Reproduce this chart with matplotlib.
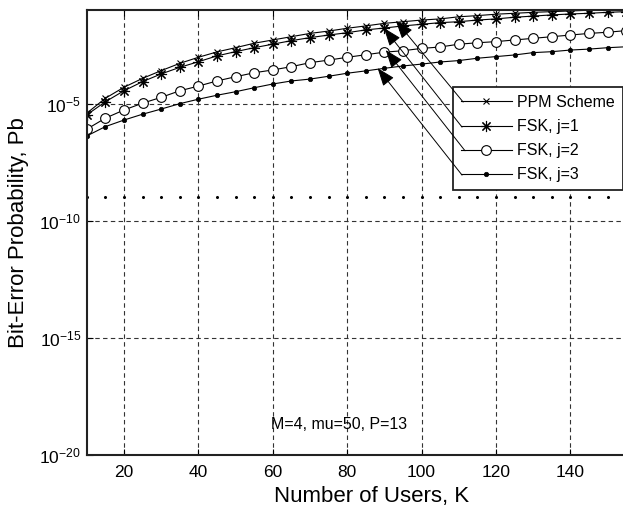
import numpy as np
import matplotlib
matplotlib.use("Agg")
import matplotlib.pyplot as plt
from matplotlib.ticker import FixedLocator, FixedFormatter, NullLocator

plt.rcParams['font.family'] = ['Liberation Sans', 'DejaVu Sans']
plt.rcParams['mathtext.fontset'] = 'custom'
plt.rcParams['mathtext.rm'] = 'Liberation Sans'

# ---- data (log10 of bit-error probability) ----
users = list(range(10, 160, 5))
ppm_log = [-5.41, -4.77, -4.30, -3.92, -3.59, -3.28, -3.02, -2.79, -2.61, -2.42,
           -2.28, -2.14, -2.00, -1.90, -1.78, -1.68, -1.57, -1.50, -1.43, -1.38,
           -1.29, -1.24, -1.18, -1.14, -1.10, -1.07, -1.04, -1.01, -1.00, -0.98]
fsk1_log = [-5.48, -4.92, -4.45, -4.06, -3.73, -3.45, -3.21, -2.96, -2.78, -2.61,
            -2.46, -2.31, -2.18, -2.07, -1.97, -1.85, -1.77, -1.68, -1.61, -1.54,
            -1.50, -1.43, -1.38, -1.31, -1.26, -1.21, -1.17, -1.14, -1.10, -1.07]
fsk2_log = [-6.09, -5.62, -5.27, -4.98, -4.73, -4.45, -4.25, -4.03, -3.85, -3.68,
            -3.56, -3.42, -3.25, -3.14, -3.02, -2.91, -2.80, -2.74, -2.64, -2.58,
            -2.46, -2.40, -2.35, -2.28, -2.21, -2.14, -2.07, -2.00, -1.95, -1.88]
fsk3_log = [-6.38, -5.98, -5.70, -5.45, -5.23, -5.00, -4.81, -4.64, -4.49, -4.32,
            -4.16, -4.03, -3.95, -3.83, -3.70, -3.60, -3.49, -3.39, -3.31, -3.22,
            -3.16, -3.06, -2.99, -2.92, -2.82, -2.78, -2.71, -2.67, -2.61, -2.57]
threshold_val = 1e-9
series_labels = ['PPM Scheme', 'FSK, j=1', 'FSK, j=2', 'FSK, j=3']
xticks = [20, 40, 60, 80, 100, 120, 140]
yticks = [1e-20, 1e-15, 1e-10, 1e-5]
ytick_labels = [r'$\mathregular{10^{-20}}$', r'$\mathregular{10^{-15}}$',
                r'$\mathregular{10^{-10}}$', r'$\mathregular{10^{-5}}$']
note_text = 'M=4, mu=50, P=13'

W, H = 623, 514
fig = plt.figure(figsize=(W / 100, H / 100), dpi=100)
ax_left, ax_right, ax_top, ax_bot = 86.7, 644.7, 10, 455
aw, ah = ax_right - ax_left, ax_bot - ax_top
ax = fig.add_axes([ax_left / W, 1 - ax_bot / H, aw / W, ah / H])

x = np.array(users)
l_ppm, = ax.plot(x, 10 ** np.array(ppm_log), color='black', lw=0.8, marker='x', ms=5, mew=0.8)
l_f1, = ax.plot(x, 10 ** np.array(fsk1_log), color='black', lw=0.8, marker=(8, 2, 0), ms=8, mew=0.8)
l_f2, = ax.plot(x, 10 ** np.array(fsk2_log), color='black', lw=0.8, marker='o', ms=7, mfc='white', mew=0.8)
l_f3, = ax.plot(x, 10 ** np.array(fsk3_log), color='black', lw=0.8, marker='o', ms=3.2, mfc='black', mew=0.5)
ax.plot(x, np.full(len(users), threshold_val), ls='none', marker='o', ms=1.2, color='black')

ax.set_yscale('log')
ax.set_xlim(10, 160)
ax.set_ylim(1e-20, 1e-1)
ax.xaxis.set_major_locator(FixedLocator(xticks))
ax.yaxis.set_major_locator(FixedLocator(yticks))
ax.yaxis.set_major_formatter(FixedFormatter(ytick_labels))
ax.yaxis.set_minor_locator(NullLocator())
ax.tick_params(axis='both', which='major', direction='in', length=4, width=0.8,
               labelsize=12.5, top=True, right=True)
ax.tick_params(axis='x', pad=7)
ax.tick_params(axis='y', pad=4)
ax.grid(True, which='major', color='#333333', ls=(0, (4, 3)), lw=0.8)
for s in ax.spines.values():
    s.set_linewidth(1.5)
    s.set_color('#222222')

ax.set_xlabel('Number of Users, K', fontsize=16)
ax.set_ylabel('Bit-Error Probability, Pb', fontsize=16)
ax.xaxis.set_label_coords((372 - ax_left) / aw, -(486 - ax_bot) / ah)
ax.yaxis.set_label_coords(-(ax_left - 29) / aw, 0.5)

ax.text(59.5, 10 ** -18.68, note_text, fontsize=11.5, ha='left', va='center')

leg = ax.legend([l_ppm, l_f1, l_f2, l_f3], series_labels, loc='upper left',
                bbox_to_anchor=((452.7 - ax_left) / aw, (ax_bot - 87) / ah),
                borderaxespad=0, fontsize=11.5, handlelength=3.2, handletextpad=0.35,
                labelspacing=0.57, borderpad=0.5, fancybox=False, framealpha=1,
                edgecolor='#222222')
leg.get_frame().set_linewidth(1.3)
leg.set_zorder(5)

# arrows from legend entries to curves
arrow_tips = [(93.1, -1.457), (89.9, -1.77), (90.4, -2.71), (88.2, -3.48)]
arrow_tails = [(111.2, -4.93), (110.9, -6.0), (111.7, -7.01), (110.9, -8.05)]
for (tx, ty), (sx, sy) in zip(arrow_tips, arrow_tails):
    ax.annotate('', xy=(tx, 10 ** ty), xytext=(sx, 10 ** sy),
                arrowprops=dict(arrowstyle='-|>,head_length=0.8,head_width=0.3',
                                color='black', lw=0.7, shrinkA=0, shrinkB=0,
                                mutation_scale=14), zorder=6)

fig.savefig('out.png', dpi=100)
